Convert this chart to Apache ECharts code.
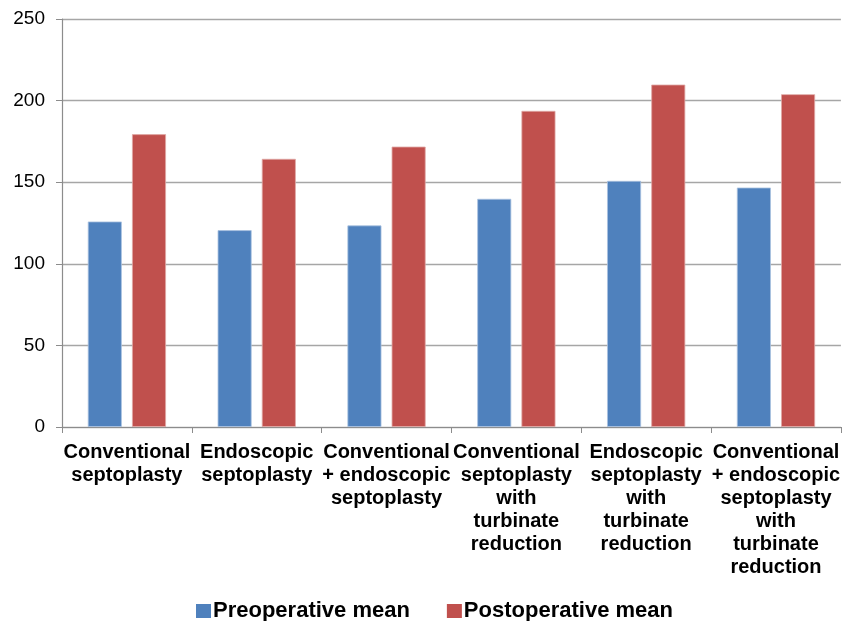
<!DOCTYPE html>
<html>
<head>
<meta charset="utf-8">
<script src="https://cdn.jsdelivr.net/npm/echarts@6/dist/echarts.min.js"></script>
<style>html,body{margin:0;padding:0;background:#fff;}#c{width:843px;height:621px;}</style>
</head>
<body>
<div id="c"></div>
<script>
var categories = [
  'Conventional\nseptoplasty',
  'Endoscopic\nseptoplasty',
  'Conventional\n+ endoscopic\nseptoplasty',
  'Conventional\nseptoplasty\nwith\nturbinate\nreduction',
  'Endoscopic\nseptoplasty\nwith\nturbinate\nreduction',
  'Conventional\n+ endoscopic\nseptoplasty\nwith\nturbinate\nreduction'
];
var preoperative = [125.9, 120.6, 123.5, 139.8, 150.8, 146.7];
var postoperative = [179.4, 164.3, 171.8, 193.7, 209.8, 203.9];
var seriesNames = ['Preoperative mean', 'Postoperative mean'];

var chart = echarts.init(document.getElementById('c'), null, {renderer: 'canvas'});
chart.setOption({
  animation: false,
  backgroundColor: '#fff',
  textStyle: {fontFamily: 'Liberation Sans, Arial, sans-serif'},
  legend: {
    data: seriesNames,
    left: 191,
    top: 595,
    itemWidth: 15,
    itemHeight: 14,
    itemGap: 37,
    icon: 'rect',
    itemStyle: {borderWidth: 0},
    textStyle: {fontSize: 22, fontWeight: 'bold', color: '#000', padding: [0, 0, 0, -3], fontFamily: 'Liberation Sans, Arial, sans-serif'}
  },
  grid: {left: 62, right: 0, top: 19, bottom: 194, containLabel: false},
  xAxis: {
    type: 'category',
    data: categories,
    axisLine: {lineStyle: {color: '#8c8c8c', width: 1.2}},
    axisTick: {show: true, length: 6, alignWithLabel: false, lineStyle: {color: '#8c8c8c'}},
    axisLabel: {
      interval: 0,
      margin: 14,
      fontSize: 20,
      fontWeight: 'bold',
      lineHeight: 23,
      color: '#000',
      fontFamily: 'Liberation Sans, Arial, sans-serif'
    }
  },
  yAxis: {
    type: 'value',
    min: 0,
    max: 250,
    interval: 50,
    axisLine: {show: true, lineStyle: {color: '#8c8c8c', width: 1.2}},
    axisTick: {show: true, length: 6, lineStyle: {color: '#8c8c8c'}},
    axisLabel: {fontSize: 19, color: '#000', margin: 17, fontFamily: 'Liberation Sans, Arial, sans-serif'},
    splitLine: {lineStyle: {color: '#a6a6a6', width: 1.3}}
  },
  series: [
    {
      name: seriesNames[0],
      type: 'bar',
      data: preoperative,
      barWidth: 34,
      barGap: '30%',
      itemStyle: {color: '#4F81BD', borderColor: '#a9c1e0', borderWidth: 0.8}
    },
    {
      name: seriesNames[1],
      type: 'bar',
      data: postoperative,
      barWidth: 34,
      barGap: '30%',
      itemStyle: {color: '#C0504D', borderColor: '#e0a8a6', borderWidth: 0.8}
    }
  ]
});
</script>
</body>
</html>
